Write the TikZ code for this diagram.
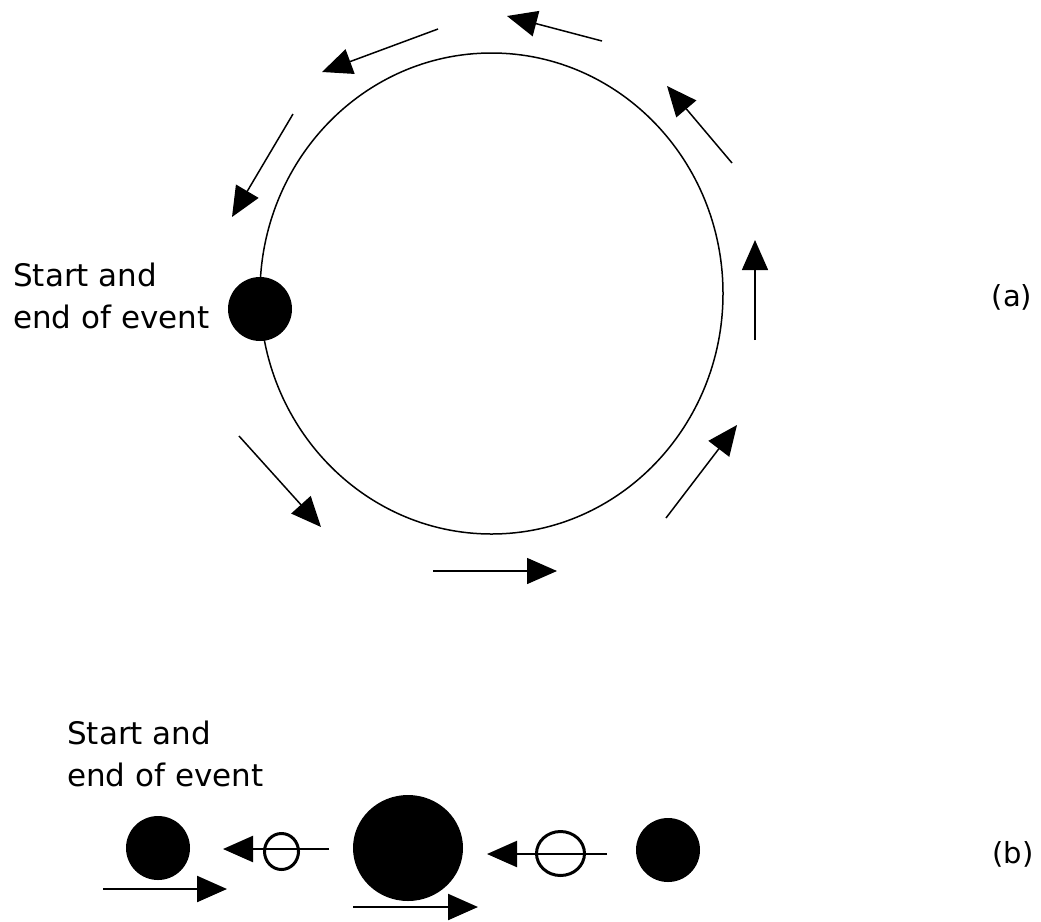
\documentclass[tikz,border=0pt]{standalone}
\usepackage{fontspec}
\setmainfont{DejaVu Sans}
\usetikzlibrary{arrows.meta,shapes.geometric}
\begin{document}
\begin{tikzpicture}[x=1pt,y=-1pt,
  orbit/.style={ellipse,draw,line width=1.5pt,inner sep=0pt},
  flow/.style={line width=1.5pt,-{Triangle[length=30pt,width=26pt]}},
  flowb/.style={line width=2.2pt,-{Triangle[length=30pt,width=26pt]}},
  dot/.style={ellipse,fill=black,inner sep=0pt},
  ring/.style={ellipse,draw,line width=3pt,inner sep=0pt},
  lbl/.style={align=left,anchor=north west,inner sep=0pt,font=\fontsize{31}{42}\selectfont},
  tag/.style={font=\fontsize{29}{35}\selectfont,inner sep=0pt}]
\useasboundingbox (0,0) rectangle (1041,921);

% ---- (a) ----
\node[orbit,minimum width=463pt,minimum height=481pt] (orbitA) at (491.5,293.5) {};
\node[dot,minimum width=64pt,minimum height=64pt] (startA) at (260,309) {};
\node[lbl] (txtA) at (13,263) {Start and\\end of event};
\node[tag] (tagA) at (1012,297) {(a)};

\coordinate (a1s) at (293,114);  \coordinate (a1e) at (232,217);
\coordinate (a2s) at (438,29);   \coordinate (a2e) at (322,72);
\coordinate (a3s) at (602,41);   \coordinate (a3e) at (507,16);
\coordinate (a4s) at (732,163);  \coordinate (a4e) at (667,86);
\coordinate (a5s) at (755,340);  \coordinate (a5e) at (755,240);
\coordinate (a6s) at (666,518);  \coordinate (a6e) at (737,425);
\coordinate (a7s) at (433,571);  \coordinate (a7e) at (557,571);
\coordinate (a8s) at (239,436);  \coordinate (a8e) at (321,527);
\foreach \i in {1,...,8} \draw[flow] (a\i s) -- (a\i e);

% ---- (b) ----
\node[lbl] (txtB) at (67,721) {Start and\\end of event};
\node[tag] (tagB) at (1013,854) {(b)};
\node[dot,minimum width=64pt,minimum height=64pt] (dotL) at (158,848) {};
\node[ring,minimum width=34pt,minimum height=36pt] (ringS) at (281.5,851.5) {};
\node[dot,minimum width=110pt,minimum height=106pt] (dotM) at (408,848) {};
\node[ring,minimum width=48pt,minimum height=44pt] (ringM) at (560.5,853.5) {};
\node[dot,minimum width=64pt,minimum height=64pt] (dotR) at (668,850) {};

\coordinate (b1s) at (103,889); \coordinate (b1e) at (227,889);
\coordinate (b2s) at (329,849); \coordinate (b2e) at (223,849);
\coordinate (b3s) at (353,907); \coordinate (b3e) at (478,907);
\coordinate (b4s) at (607,854); \coordinate (b4e) at (487,854);
\foreach \i in {1,...,4} \draw[flowb] (b\i s) -- (b\i e);
\end{tikzpicture}
\end{document}
